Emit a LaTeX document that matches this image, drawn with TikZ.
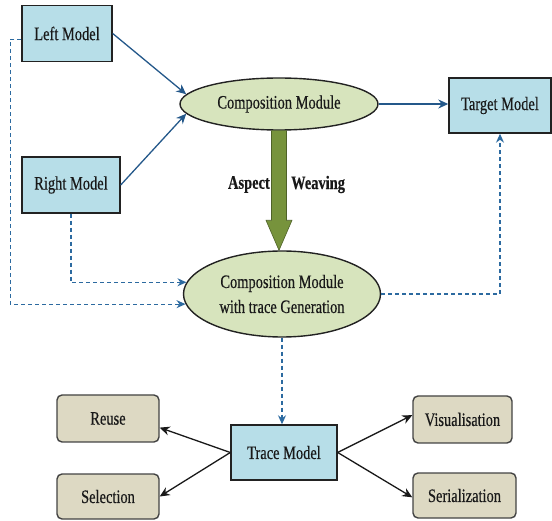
\documentclass[tikz,border=0pt]{standalone}
\usepackage{fontspec}
\setmainfont[FakeStretch=0.76,FakeBold=0.4]{Liberation Serif}
\usetikzlibrary{shapes.geometric,arrows.meta,calc}
\definecolor{boxblue}{HTML}{B7DEE8}
\definecolor{ellgreen}{HTML}{D7E4BD}
\definecolor{tanfill}{HTML}{DDD9C3}
\definecolor{arrgreen}{HTML}{77933C}
\definecolor{arrgreenb}{HTML}{4F6228}
\definecolor{linkblue}{HTML}{24588A}
\definecolor{dashblue}{HTML}{2C6AA0}
\definecolor{edge}{HTML}{222222}
\tikzset{
  every node/.style={font=\fontsize{19}{25}\selectfont, text=black!90, inner sep=0pt},
  bluebox/.style={rectangle, draw=edge, line width=1.4pt, fill=boxblue},
  ellbox/.style={ellipse, draw=edge, line width=1.4pt, fill=ellgreen, align=center},
  tanbox/.style={rectangle, rounded corners=5pt, draw=edge!85, line width=1.4pt, fill=tanfill},
  solidlink/.style={draw=linkblue, line width=1.3pt, -{Stealth[length=10pt,width=9pt]}},
  dashlink/.style={draw=dashblue, line width=1.2pt, dash pattern=on 4pt off 3pt, -{Stealth[length=9pt,width=8pt]}},
  blacklink/.style={draw=black!90, line width=1.3pt, -{Stealth[length=10pt,width=9pt]}},
  bigarrow/.style={fill=arrgreen, draw=arrgreenb, line width=0.6pt},
  weave/.style={font=\fontsize{19}{22}\selectfont\bfseries}
}
\begin{document}
\begin{tikzpicture}[x=1pt,y=-1pt]
\useasboundingbox (0,0) rectangle (552,521);
% top nodes
\node[bluebox, minimum width=90pt, minimum height=56pt] (L) at (67,33.5) {Left Model};
\node[bluebox, minimum width=98pt, minimum height=56pt] (R) at (71,185) {Right Model};
\node[bluebox, minimum width=102pt, minimum height=55pt] (T) at (500,105.5) {Target Model};
\node[ellbox, minimum width=198pt, minimum height=52pt] (C1) at (279,104) {Composition Module};
\node[ellbox, minimum width=197pt, minimum height=86pt] (C2) at (282,294) {Composition Module\\with trace Generation};
% bottom nodes
\node[bluebox, minimum width=106pt, minimum height=55pt] (TM) at (284,452.5) {Trace Model};
\node[tanbox, minimum width=102pt, minimum height=47pt] (RU) at (108,418.5) {Reuse};
\node[tanbox, minimum width=102pt, minimum height=45pt] (SE) at (108,496.5) {Selection};
\node[tanbox, minimum width=99pt, minimum height=47pt] (VI) at (462.5,419.5) {Visualisation};
\node[tanbox, minimum width=103pt, minimum height=45pt] (SR) at (464.5,495.5) {Serialization};
% solid links
\draw[solidlink] (L.east) -- (C1.174);
\draw[solidlink] (R.east) -- (C1.186);
\draw[solidlink] (C1.east) -- (C1.east -| T.west);
% big green arrow
\path (C1.south) coordinate (gA) (C1.south |- C2.north) coordinate (gB);
\draw[bigarrow] ($(gA)+(-7.5,0)$) -- ($(gA)+(7.5,0)$) -- ($(gB)+(7.5,-30)$) -- ($(gB)+(13,-30)$) -- (gB) -- ($(gB)+(-13,-30)$) -- ($(gB)+(-7.5,-30)$) -- cycle;
\node[weave, anchor=east] (asp) at ($(gA)!0.45!(gB)+(-9,0)$) {Aspect};
\node[weave, anchor=west] (wea) at ($(gA)!0.45!(gB)+(12,0)$) {Weaving};
% dashed links
\draw[dashlink] (R.south) |- (C2.173);
\draw[dashlink] (L.187) -- ++(-11,0) |- (C2.186);
\draw[dashlink] (C2.east) -| (T.south);
\draw[dashlink] (C2.south) -- (C2.south |- TM.north);
% bottom links
\draw[blacklink] (TM.west) -- (RU.-10);
\draw[blacklink] (TM.west) -- (SE.east);
\draw[blacklink] (TM.east) -- (VI.175);
\draw[blacklink] (TM.east) -- (SR.182);
\end{tikzpicture}
\end{document}
